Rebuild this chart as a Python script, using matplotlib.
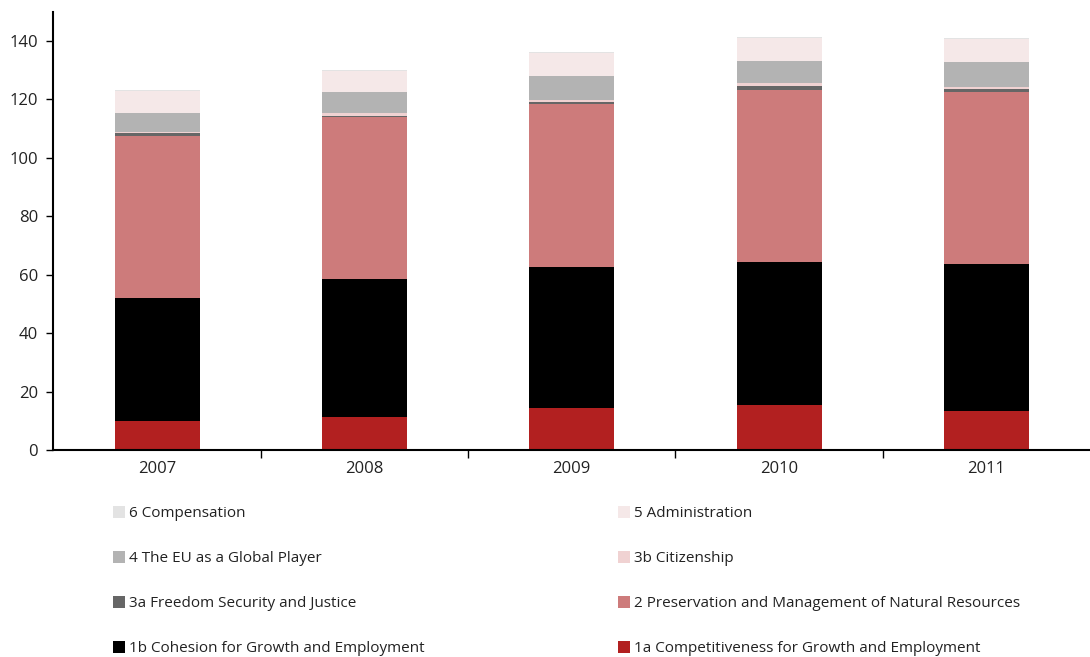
import numpy as np
from matplotlib import pyplot as plt
from matplotlib.patches import Patch

plt.rcParams['font.family'] = ['Open Sans', 'DejaVu Sans']

years = ['2007', '2008', '2009', '2010', '2011']

# headings, bottom to top of each stack
c1a = [9.9, 11.3, 14.3, 15.4, 13.3]
c1b = [42.0, 47.1, 48.2, 48.8, 50.5]
c2 = [55.6, 55.6, 55.9, 59.2, 58.8]
c3a = [0.9, 0.5, 0.7, 1.3, 1.0]
c3b = [0.4, 0.8, 0.8, 0.8, 0.7]
c4 = [6.5, 7.4, 8.2, 7.7, 8.5]
c5 = [7.5, 7.2, 7.8, 7.9, 8.0]
c6 = [0.3, 0.3, 0.4, 0.2, 0.2]

labels = ['1a Competitiveness for Growth and Employment',
          '1b Cohesion for Growth and Employment',
          '2 Preservation and Management of Natural Resources',
          '3a Freedom Security and Justice',
          '3b Citizenship',
          '4 The EU as a Global Player',
          '5 Administration',
          '6 Compensation']
colors = ['#b22020', '#000000', '#cd7b7b', '#666666',
          '#f0d2d2', '#b3b3b3', '#f5e8e8', '#e3e3e3']


def main():
    series = [c1a, c1b, c2, c3a, c3b, c4, c5, c6]
    fig = plt.figure(figsize=(10.9, 6.57), dpi=100)
    ax = fig.add_axes([0.049, 0.315, 0.951, 0.667])

    x = np.arange(len(years))
    bottom = np.zeros(len(years))
    for vals, col in zip(series, colors):
        ax.bar(x, vals, 0.41, bottom=bottom, color=col, linewidth=0)
        bottom += np.array(vals)

    ax.set_xlim(-0.5, len(years) - 0.5)
    ax.set_ylim(0, 150)
    ax.set_yticks(range(0, 141, 20))
    ax.set_xticks(x)
    ax.set_xticklabels(years)
    ax.set_xticks(x[:-1] + 0.5, minor=True)
    ax.tick_params(axis='x', which='major', length=0, pad=8)
    ax.tick_params(axis='x', which='minor', length=6, width=1, direction='out')
    ax.tick_params(axis='y', length=5, width=1, direction='out', pad=6)
    ax.tick_params(labelsize=12, labelcolor='#222222')
    for s in ['top', 'right']:
        ax.spines[s].set_visible(False)
    for s in ['left', 'bottom']:
        ax.spines[s].set_linewidth(1.5)

    handles = [Patch(facecolor=c, edgecolor='none') for c in colors]
    # two columns, read left to right from the top of the stack down
    order_left = [7, 5, 3, 1]
    order_right = [6, 4, 2, 0]
    common = dict(frameon=False, fontsize=11, labelspacing=1.95,
                  handlelength=0.8, handleheight=0.8, handletextpad=0.25,
                  borderaxespad=0, labelcolor='#222222')
    fig.legend([handles[i] for i in order_left],
               [labels[i] for i in order_left],
               loc='upper left', bbox_to_anchor=(0.098, 0.239), **common)
    fig.legend([handles[i] for i in order_right],
               [labels[i] for i in order_right],
               loc='upper left', bbox_to_anchor=(0.561, 0.239), **common)

    fig.savefig('out.png', dpi=100)


if __name__ == '__main__':
    main()
